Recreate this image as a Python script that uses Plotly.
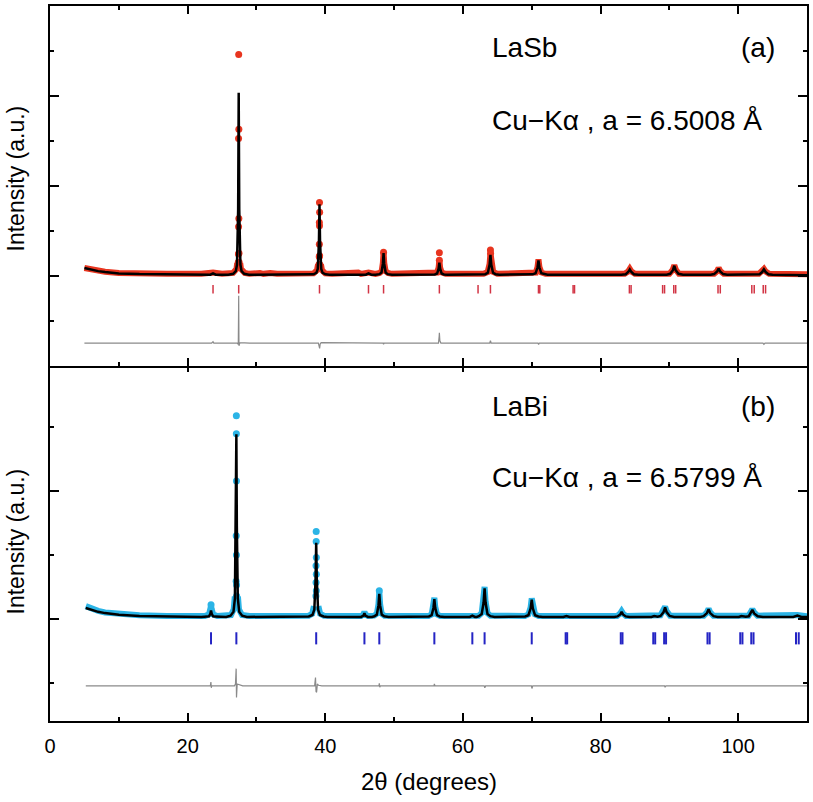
import plotly.graph_objects as go

# ---------------- LaSb, panel (a) ----------------
sb_calc_x = [5.0, 6.0, 7.0, 8.0, 10.0, 13.0, 17.0, 22.0,
             23.3, 23.69, 24.1,
             25.9, 26.62, 27.00, 27.17, 27.34, 27.42, 27.50, 27.67, 27.84, 28.22, 28.9,
             38.0, 38.26, 38.71, 38.91, 39.08, 39.16, 39.24, 39.41, 39.61, 40.06, 40.6,
             45.9, 46.28, 46.7,
             47.3, 47.87, 48.17, 48.37, 48.47, 48.57, 48.77, 49.07, 49.7,
             55.4, 55.92, 56.25, 56.47, 56.58, 56.69, 56.91, 57.24, 57.8,
             61.9, 62.2, 62.5,
             62.8, 63.25, 63.625, 63.875, 64.0, 64.125, 64.375, 64.75, 65.3,
             69.7, 70.14, 70.56, 70.84, 70.98, 71.12, 71.40, 71.82, 72.3,
             83.0, 83.66, 84.02, 84.25, 84.48, 84.84, 85.5,
             88.7, 89.1, 89.45,
             89.6, 90.12, 90.52, 90.72, 90.92, 91.32, 92.0,
             96.0, 96.5, 96.94, 97.16, 97.38, 97.82, 98.4,
             101.7, 102.1, 102.4,
             102.6, 103.1, 103.49, 103.74, 103.99, 104.4, 105.0,
             110.0]
sb_calc_y = [0.17, 0.13, 0.10, 0.08, 0.05, 0.035, 0.025, 0.02,
             0.02, 0.05, 0.02,
             0.02, 0.04, 0.10, 0.24, 1.48, 4.07, 1.48, 0.24, 0.10, 0.04, 0.02,
             0.02, 0.03, 0.06, 0.15, 0.76, 1.59, 0.76, 0.15, 0.06, 0.03, 0.02,
             0.02, 0.05, 0.02,
             0.02, 0.033, 0.068, 0.26, 0.50, 0.26, 0.068, 0.033, 0.02,
             0.02, 0.027, 0.047, 0.155, 0.29, 0.155, 0.047, 0.027, 0.02,
             0.02, 0.035, 0.02,
             0.02, 0.032, 0.064, 0.24, 0.46, 0.24, 0.064, 0.032, 0.02,
             0.02, 0.029, 0.052, 0.18, 0.34, 0.18, 0.052, 0.029, 0.02,
             0.02, 0.032, 0.08, 0.14, 0.08, 0.032, 0.02,
             0.02, 0.035, 0.02,
             0.02, 0.04, 0.12, 0.22, 0.12, 0.04, 0.02,
             0.02, 0.034, 0.09, 0.16, 0.09, 0.034, 0.02,
             0.02, 0.035, 0.02,
             0.02, 0.032, 0.08, 0.14, 0.08, 0.032, 0.02,
             0.01]

sb_obs_band_x = [5.0, 6.0, 7.0, 8.0, 10.0, 13.0, 17.0, 22.0, 23.69, 25.0, 26.6, 27.1, 27.2, None,
                 27.64, 27.75, 28.3, 29.0, 30.5, 31.0, 32.0, 33.0, 38.3, 38.8, 38.95, None,
                 39.37, 39.52, 40.0, 41.0, 44.8, 45.2, 46.28, 47.3, 47.9, 48.2, 48.37, 48.47, 48.57,
                 48.77, 49.1, 49.7, 55.5, 56.25, 56.47, 56.58, 56.69, 56.91, 57.5, 62.2, 63.0, 63.6,
                 63.875, 64.0, 64.125, 64.4, 65.0, 70.2, 70.6, 70.84, 70.98, 71.12, 71.4, 72.0,
                 83.5, 84.0, 84.25, 84.5, 85.0, 90.0, 90.5, 90.72, 90.95, 91.4, 96.5, 96.95, 97.16,
                 97.4, 97.9, 103.0, 103.5, 103.74, 104.0, 104.5, 110.0]
sb_obs_band_y = [0.17, 0.135, 0.105, 0.085, 0.06, 0.045, 0.04, 0.04, 0.07, 0.04, 0.06, 0.15, 0.28, None,
                 0.28, 0.15, 0.06, 0.04, 0.06, 0.04, 0.06, 0.04, 0.05, 0.12, 0.25, None,
                 0.25, 0.12, 0.05, 0.04, 0.07, 0.04, 0.07, 0.04, 0.06, 0.10, 0.28, 0.52, 0.28,
                 0.10, 0.06, 0.04, 0.04, 0.07, 0.18, 0.34, 0.18, 0.07, 0.04, 0.05, 0.04, 0.08,
                 0.26, 0.50, 0.26, 0.08, 0.04, 0.04, 0.07, 0.19, 0.36, 0.19, 0.07, 0.04,
                 0.04, 0.09, 0.15, 0.09, 0.04, 0.04, 0.13, 0.23, 0.13, 0.04, 0.04, 0.10, 0.17,
                 0.10, 0.04, 0.04, 0.09, 0.15, 0.09, 0.04, 0.03]

sb_obs_dot_x = [27.42, 27.44, 27.40, 27.44, 27.40, 27.38, 27.46, 27.36, 27.48,
                39.16, 39.18, 39.14, 39.16, 39.14, 39.18, 39.12, 39.20, 39.10,
                56.58, 56.58, 64.00, 64.02, 48.47]
sb_obs_dot_y = [4.92, 3.26, 3.05, 1.27, 1.09, 0.48, 0.50, 0.30, 0.30,
                1.63, 1.41, 1.18, 1.11, 0.70, 0.44, 0.42, 0.25, 0.25,
                0.51, 0.34, 0.57, 0.50, 0.52]

sb_diff_x = [5.0, 23.5, 23.69, 23.8, 27.2, 27.36, 27.42, 27.46, 27.6, 29.0,
             39.0, 39.1, 39.18, 39.26, 39.4, 48.4, 48.47, 48.55,
             56.45, 56.55, 56.58, 56.65, 56.8, 63.9, 64.0, 64.1,
             70.9, 71.0, 71.1, 103.6, 103.74, 103.9, 110.0]
sb_diff_y = [-1.50, -1.50, -1.47, -1.50, -1.50, -1.53, -0.45, -1.56, -1.49, -1.50,
             -1.50, -1.56, -1.62, -1.52, -1.49, -1.50, -1.53, -1.50,
             -1.50, -1.35, -1.27, -1.45, -1.50, -1.50, -1.45, -1.50,
             -1.50, -1.53, -1.50, -1.50, -1.53, -1.50, -1.50]

sb_bragg = [23.69, 27.42, 39.16, 46.28, 48.47, 56.58, 62.20, 64.00, 70.98, 71.17,
            76.01, 76.22, 84.19, 84.44, 89.02, 89.30, 90.64, 90.92, 97.07, 97.40,
            101.98, 102.33, 103.64, 103.98]

# ---------------- LaBi, panel (b) ----------------
bi_calc_x = [5.2, 6.0, 7.0, 8.0, 10.0, 13.0, 17.0, 22.0,
             22.8, 23.1, 23.3, 23.40, 23.5, 23.7, 24.0,
             25.6, 26.24, 26.66, 26.87, 27.01, 27.08, 27.15, 27.29, 27.50, 27.92, 28.6,
             37.2, 37.6, 38.14, 38.41, 38.59, 38.68, 38.77, 38.95, 39.22, 39.76, 40.3,
             45.2, 45.55, 45.69, 45.83, 46.2,
             46.8, 47.13, 47.49, 47.73, 47.85, 47.97, 48.21, 48.57, 49.2,
             54.7, 55.07, 55.46, 55.72, 55.85, 55.98, 56.24, 56.63, 57.3,
             61.0, 61.37, 61.75,
             62.0, 62.31, 62.73, 63.01, 63.15, 63.29, 63.57, 63.99, 64.6,
             68.7, 69.04, 69.52, 69.84, 70.0, 70.16, 70.48, 70.96, 71.6,
             74.6, 75.04, 75.5,
             82.0, 82.46, 82.86, 83.06, 83.26, 83.66, 84.2,
             87.4, 87.8, 88.2,
             88.3, 88.72, 89.16, 89.38, 89.6, 90.04, 90.7,
             94.5, 94.98, 95.46, 95.70, 95.94, 96.42, 97.0,
             100.1, 100.46, 100.8,
             101.1, 101.54, 101.8, 102.06, 102.32, 102.84, 103.6,
             108.0, 108.6, 109.2, 110.0]
bi_calc_y = [0.17, 0.14, 0.11, 0.09, 0.065, 0.045, 0.035, 0.03,
             0.035, 0.04, 0.08, 0.13, 0.08, 0.04, 0.035,
             0.03, 0.05, 0.11, 0.32, 1.46, 2.89, 1.46, 0.32, 0.11, 0.05, 0.03,
             0.03, 0.038, 0.061, 0.146, 0.61, 1.19, 0.61, 0.146, 0.061, 0.038, 0.03,
             0.03, 0.05, 0.09, 0.05, 0.03,
             0.03, 0.04, 0.066, 0.21, 0.39, 0.21, 0.066, 0.04, 0.03,
             0.03, 0.038, 0.058, 0.17, 0.31, 0.17, 0.058, 0.038, 0.03,
             0.03, 0.05, 0.03,
             0.03, 0.042, 0.075, 0.255, 0.48, 0.255, 0.075, 0.042, 0.03,
             0.03, 0.037, 0.057, 0.165, 0.30, 0.165, 0.057, 0.037, 0.03,
             0.03, 0.045, 0.03,
             0.03, 0.038, 0.07, 0.11, 0.07, 0.038, 0.03,
             0.03, 0.045, 0.03,
             0.035, 0.045, 0.105, 0.18, 0.105, 0.045, 0.03,
             0.03, 0.042, 0.09, 0.15, 0.09, 0.042, 0.03,
             0.03, 0.045, 0.035,
             0.035, 0.041, 0.085, 0.14, 0.085, 0.04, 0.03,
             0.03, 0.05, 0.03, 0.03]

bi_obs_band_x = [5.2, 6.0, 7.0, 8.0, 10.0, 13.0, 17.0, 22.5, 23.1, 23.3, 23.40, 23.5, 23.7, 24.3,
                 26.3, 26.7, 26.85, None, 27.31, 27.46, 27.9, 29.0, 37.6, 38.1, 38.35, None,
                 39.0, 39.25, 39.8, 45.2, 45.55, 45.69, 45.83, 46.2, 47.1, 47.5, 47.73, 47.85, 47.97,
                 48.2, 48.6, 55.0, 55.46, 55.72, 55.85, 55.98, 56.24, 56.7, 61.37, 62.3, 62.73,
                 63.01, 63.15, 63.29, 63.57, 64.0, 69.0, 69.52, 69.84, 70.0, 70.16, 70.48, 71.0,
                 82.4, 82.86, 83.06, 83.26, 83.7, 88.7, 89.16, 89.38, 89.6, 90.1, 95.0, 95.46,
                 95.70, 95.94, 96.4, 101.5, 101.8, 102.06, 102.32, 102.8, 108.6, 110.0]
bi_obs_band_y = [0.20, 0.16, 0.125, 0.10, 0.075, 0.055, 0.045, 0.045, 0.07, 0.15, 0.20, 0.15, 0.07, 0.045,
                 0.06, 0.15, 0.35, None, 0.35, 0.15, 0.06, 0.045, 0.05, 0.08, 0.20, None,
                 0.20, 0.08, 0.05, 0.045, 0.07, 0.11, 0.07, 0.045, 0.05, 0.08, 0.23, 0.42, 0.23,
                 0.08, 0.05, 0.045, 0.07, 0.19, 0.33, 0.19, 0.07, 0.045, 0.06, 0.05, 0.09,
                 0.27, 0.50, 0.27, 0.09, 0.05, 0.045, 0.07, 0.18, 0.32, 0.18, 0.07, 0.045,
                 0.045, 0.085, 0.12, 0.085, 0.045, 0.055, 0.12, 0.19, 0.12, 0.05, 0.05, 0.10,
                 0.16, 0.10, 0.05, 0.05, 0.10, 0.15, 0.10, 0.05, 0.06, 0.04]

bi_obs_dot_x = [23.40, 27.08, 27.08, 27.09, 27.06, 27.09, 27.05, 27.11, 27.04, 27.12,
                38.68, 38.68, 38.70, 38.66, 38.70, 38.66, 38.70, 38.64, 47.85]
bi_obs_dot_y = [0.22, 3.18, 2.90, 2.16, 1.30, 1.00, 0.59, 0.53, 0.33, 0.36,
                1.37, 1.21, 0.96, 0.83, 0.70, 0.57, 0.44, 0.36, 0.44]

bi_diff_x = [5.2, 23.3, 23.38, 23.44, 23.5, 26.8, 26.95, 27.05, 27.10, 27.2, 27.4, 28.0,
             38.45, 38.58, 38.66, 38.74, 38.85, 39.0, 39.5, 47.8, 47.85, 47.92, 48.0,
             55.8, 55.85, 55.95, 63.1, 63.18, 63.3, 69.95, 70.03, 70.15,
             89.3, 89.38, 89.5, 110.0]
bi_diff_y = [-1.05, -1.05, -0.99, -1.08, -1.05, -1.05, -1.02, -0.78, -1.23, -1.02, -1.03, -1.05,
             -1.05, -0.92, -1.14, -1.15, -1.02, -1.04, -1.05, -1.05, -1.01, -1.07, -1.05,
             -1.05, -1.02, -1.05, -1.05, -1.08, -1.05, -1.05, -1.09, -1.05,
             -1.05, -1.07, -1.05, -1.05]

bi_bragg = [23.40, 27.08, 38.68, 45.69, 47.85, 55.85, 61.37, 63.15, 70.00, 74.93, 75.15,
            82.94, 83.19, 87.66, 87.94, 89.24, 89.52, 95.54, 95.85, 100.30, 100.62,
            101.90, 102.23, 108.40, 108.80]

x_tick_vals = [0, 20, 40, 60, 80, 100]
x_tick_text = ["0", "20", "40", "60", "80", "100"]

RED = "#e8351f"
RED_TICK = "#d23444"
CYAN = "#2bb4e6"
BLUE_TICK = "#2424c4"
GRAY = "#8a8a8a"
FONT = "Liberation Sans, Arial, sans-serif"

fig = go.Figure()


def bragg_xy(pos, lo, hi):
    xs, ys = [], []
    for p in pos:
        xs += [p, p, None]
        ys += [lo, hi, None]
    return xs, ys


def add_panel(xa, ya, band_x, band_y, dot_x, dot_y, calc_x, calc_y, diff_x, diff_y,
              bragg, col, tick_col, tick_w):
    fig.add_trace(go.Scatter(x=band_x, y=band_y, mode="lines", xaxis=xa, yaxis=ya,
                             line=dict(color=col, width=6), connectgaps=False,
                             hoverinfo="skip", showlegend=False))
    fig.add_trace(go.Scatter(x=dot_x, y=dot_y, mode="markers", xaxis=xa, yaxis=ya,
                             marker=dict(color=col, size=7, line=dict(width=0)),
                             showlegend=False))
    fig.add_trace(go.Scatter(x=calc_x, y=calc_y, mode="lines", xaxis=xa, yaxis=ya,
                             line=dict(color="black", width=2.5), showlegend=False))
    bx, by = bragg_xy(bragg, -0.40, -0.21)
    fig.add_trace(go.Scatter(x=bx, y=by, mode="lines", xaxis=xa, yaxis=ya,
                             line=dict(color=tick_col, width=tick_w), showlegend=False))
    fig.add_trace(go.Scatter(x=diff_x, y=diff_y, mode="lines", xaxis=xa, yaxis=ya,
                             line=dict(color=GRAY, width=1.2), showlegend=False))


add_panel("x2", "y2", sb_obs_band_x, sb_obs_band_y, sb_obs_dot_x, sb_obs_dot_y,
          sb_calc_x, sb_calc_y, sb_diff_x, sb_diff_y, sb_bragg, RED, RED_TICK, 1.5)
add_panel("x", "y", bi_obs_band_x, bi_obs_band_y, bi_obs_dot_x, bi_obs_dot_y,
          bi_calc_x, bi_calc_y, bi_diff_x, bi_diff_y, bi_bragg, CYAN, BLUE_TICK, 2)

axis_common = dict(showline=True, linewidth=2, linecolor="black", mirror="ticks",
                   ticks="inside", tickwidth=2, tickcolor="black", showgrid=False,
                   zeroline=False)

fig.update_layout(
    width=813, height=802,
    margin=dict(l=50, r=6, t=4, b=81),
    paper_bgcolor="white", plot_bgcolor="white",
    font=dict(family=FONT, color="black"),
    xaxis=dict(domain=[0, 1], anchor="y", range=[0, 110], tickvals=x_tick_vals,
               ticktext=x_tick_text, ticklen=8, tickfont=dict(size=20, family=FONT),
               ticklabelstandoff=6,
               minor=dict(dtick=10, tick0=0, ticklen=4, ticks="inside", tickwidth=2,
                          tickcolor="black", showgrid=False),
               **axis_common),
    xaxis2=dict(domain=[0, 1], anchor="y2", matches="x", range=[0, 110], tickvals=x_tick_vals,
                showticklabels=False, ticklen=8,
                minor=dict(dtick=10, tick0=0, ticklen=4, ticks="inside", tickwidth=2,
                           tickcolor="black", showgrid=False),
                **axis_common),
    yaxis=dict(domain=[0, 0.5], anchor="x", range=[-1.6, 4.0], dtick=2, tick0=0, ticklen=9,
               showticklabels=False,
               minor=dict(dtick=1, tick0=0, ticklen=4, ticks="inside", tickwidth=2,
                          tickcolor="black", showgrid=False),
               **axis_common),
    yaxis2=dict(domain=[0.4972, 1], anchor="x2", range=[-2.0, 6.0], dtick=2, tick0=0, ticklen=9,
                showticklabels=False,
                minor=dict(dtick=1, tick0=0, ticklen=4, ticks="inside", tickwidth=2,
                           tickcolor="black", showgrid=False),
                **axis_common),
)

ann_font = dict(size=28, family=FONT, color="black")
title_font = dict(size=23, family=FONT, color="black")
annotations = [
    dict(text="LaSb", xref="x2", yref="y2", x=64.0, y=5.07, xanchor="left", yanchor="middle",
         showarrow=False, font=ann_font),
    dict(text="(a)", xref="x2", yref="y2", x=105.7, y=5.07, xanchor="right", yanchor="middle",
         showarrow=False, font=ann_font),
    dict(text="Cu\u2212K\u03b1 , a = 6.5008 \u00c5", xref="x2", yref="y2", x=64.0, y=3.46,
         xanchor="left", yanchor="middle", showarrow=False, font=ann_font),
    dict(text="LaBi", xref="x", yref="y", x=64.0, y=3.33, xanchor="left", yanchor="middle",
         showarrow=False, font=ann_font),
    dict(text="(b)", xref="x", yref="y", x=105.7, y=3.33, xanchor="right", yanchor="middle",
         showarrow=False, font=ann_font),
    dict(text="Cu\u2212K\u03b1 , a = 6.5799 \u00c5", xref="x", yref="y", x=64.0, y=2.21,
         xanchor="left", yanchor="middle", showarrow=False, font=ann_font),
    dict(text="Intensity (a.u.)", xref="paper", yref="paper", x=-0.045, y=0.7587,
         xanchor="center", yanchor="middle", textangle=-90, showarrow=False, font=title_font),
    dict(text="Intensity (a.u.)", xref="paper", yref="paper", x=-0.045, y=0.251,
         xanchor="center", yanchor="middle", textangle=-90, showarrow=False, font=title_font),
    dict(text="2\u03b8 (degrees)", xref="paper", yref="paper", x=0.5, y=-0.084,
         xanchor="center", yanchor="middle", showarrow=False,
         font=dict(size=24, family=FONT, color="black")),
]
fig.update_layout(annotations=annotations)

fig.write_html("out.html", config={"displayModeBar": False},
               post_script="document.body.style.margin='0px';document.body.style.overflow='hidden';")
